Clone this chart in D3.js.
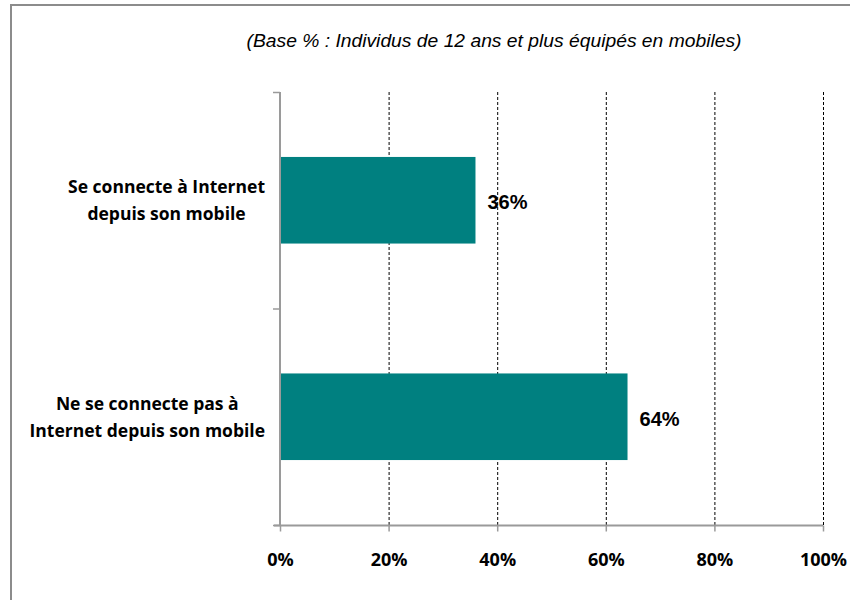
<!DOCTYPE html>
<html>
<head>
<meta charset="utf-8">
<script src="https://cdn.jsdelivr.net/npm/d3@7"></script>
<style>
  body { margin: 0; background: #fff; }
  svg { display: block; }
</style>
</head>
<body>
<div id="container"></div>
<script>
// data
var categories = [
	["Se connecte à Internet", "depuis son mobile"],
	["Ne se connecte pas à", "Internet depuis son mobile"]
];
var values = [36, 64];
var tickValues = [0, 20, 40, 60, 80, 100];
var title = "(Base % : Individus de 12 ans et plus équipés en mobiles)";

var width = 850, height = 600;
var margin = {left: 280, right: 27, top: 92, bottom: 75};

var svg = d3.select("#container").append("svg")
	.attr("width", width)
	.attr("height", height);

// outer frame (only top and left are visible)
svg.append("path")
	.attr("d", "M11,600 L11,5 L850,5")
	.attr("fill", "none")
	.attr("stroke", "#8c8c8c")
	.attr("stroke-width", 2);

var x = d3.scaleLinear()
	.domain([0, 100])
	.range([margin.left, width - margin.right]);

var y = d3.scaleBand()
	.domain(d3.range(categories.length))
	.range([margin.top, height - margin.bottom])
	.paddingInner(0.6)
	.paddingOuter(0.3);

var yBottom = height - margin.bottom;

// title
svg.append("text")
	.attr("x", 494)
	.attr("y", 47)
	.attr("text-anchor", "middle")
	.attr("font-family", "Liberation Sans, Arial, sans-serif")
	.attr("font-style", "italic")
	.attr("font-size", 19)
	.attr("textLength", 495)
	.attr("lengthAdjust", "spacingAndGlyphs")
	.attr("fill", "#000")
	.text(title);

// dashed gridlines
svg.append("g")
	.selectAll("line")
	.data(tickValues.filter(d => d > 0))
	.enter()
	.append("line")
		.attr("x1", d => x(d) + 0.5)
		.attr("x2", d => x(d) + 0.5)
		.attr("y1", margin.top)
		.attr("y2", yBottom)
		.attr("stroke", "#000")
		.attr("stroke-width", 1)
		.attr("stroke-dasharray", "3,2");

// bars
svg.append("g")
	.selectAll("rect")
	.data(values)
	.enter()
	.append("rect")
		.attr("x", x(0))
		.attr("y", (d, i) => y(i))
		.attr("width", d => x(d) - x(0))
		.attr("height", y.bandwidth())
		.attr("fill", "#008080");

// value labels
svg.append("g")
	.selectAll("text")
	.data(values)
	.enter()
	.append("text")
		.attr("x", d => x(d) + 12)
		.attr("y", (d, i) => y(i) + y.bandwidth() / 2 + 9)
		.attr("font-family", "Liberation Sans, Arial, sans-serif")
		.attr("font-weight", "bold")
		.attr("font-size", 20)
		.attr("fill", "#000")
		.text(d => d + "%");

// x axis
var xAxis = d3.axisBottom(x)
	.tickValues(tickValues)
	.tickFormat(d => d + "%")
	.tickSize(6)
	.tickPadding(22);

var gx = svg.append("g")
	.attr("transform", "translate(0," + (yBottom + 0.5) + ")")
	.call(xAxis);
gx.select(".domain")
	.attr("d", "M" + (x(0) - 6) + ",0H" + x(100))
	.attr("stroke", "#9a9a9a")
	.attr("stroke-width", 2);
gx.selectAll(".tick line").attr("stroke", "#9a9a9a").attr("stroke-width", 1.5);
gx.selectAll(".tick text")
	.attr("font-family", "Open Sans, Liberation Sans, sans-serif")
	.attr("font-weight", "bold")
	.attr("font-size", 18)
	.attr("fill", "#000");

// y axis line with ticks at band edges
var yEdges = [margin.top, (margin.top + yBottom) / 2, yBottom];
svg.append("line")
	.attr("x1", x(0)).attr("x2", x(0))
	.attr("y1", margin.top).attr("y2", yBottom)
	.attr("stroke", "#9a9a9a")
	.attr("stroke-width", 2);
svg.append("g")
	.selectAll("line")
	.data(yEdges)
	.enter()
	.append("line")
		.attr("x1", x(0) - 7)
		.attr("x2", x(0))
		.attr("y1", d => d + 0.5)
		.attr("y2", d => d + 0.5)
		.attr("stroke", "#9a9a9a")
		.attr("stroke-width", 1.5);

// category labels: block right-aligned, lines centered in block
var labelRight = 265;
categories.forEach(function(lines, i) {
	var g = svg.append("g");
	var texts = g.selectAll("text")
		.data(lines)
		.enter()
		.append("text")
			.attr("font-family", "Open Sans, Liberation Sans, sans-serif")
			.attr("font-weight", "bold")
			.attr("font-size", 17.5)
			.attr("fill", "#000")
			.attr("text-anchor", "middle")
			.text(d => d);
	var maxW = 0;
	texts.each(function() { maxW = Math.max(maxW, this.getComputedTextLength()); });
	var cy = y(i) + y.bandwidth() / 2;
	texts
		.attr("x", labelRight - maxW / 2)
		.attr("y", (d, j) => cy - 7 + j * 27);
});
</script>
</body>
</html>
